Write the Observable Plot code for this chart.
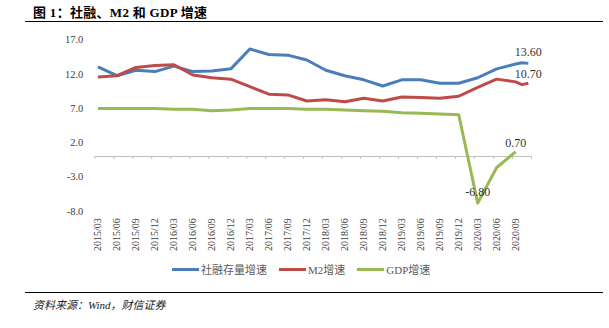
<!DOCTYPE html>
<html><head><meta charset="utf-8">
<script src="https://cdn.jsdelivr.net/npm/d3@7"></script>
<script src="https://cdn.jsdelivr.net/npm/@observablehq/plot@0.6"></script>
<style>
body{margin:0;background:#fff;width:609px;height:328px;position:relative;overflow:hidden;font-family:"Liberation Serif","Times New Roman","Noto Sans CJK SC",serif;}
#title{position:absolute;left:33px;top:2px;font-size:13px;font-weight:bold;color:#000;white-space:nowrap;letter-spacing:0.3px;}
.rule{position:absolute;left:25px;width:578px;height:1.3px;background:#000;}
#chart{position:absolute;left:0;top:25px;}
#legend{position:absolute;left:172px;top:261px;display:flex;align-items:center;font-size:11px;color:#595959;white-space:nowrap;}
#legend .item{display:flex;align-items:center;margin-right:12px;}
#legend .sw{width:27px;height:3px;margin-right:2px;}
#source{position:absolute;left:33px;top:296px;font-size:11px;font-style:italic;color:#222;white-space:nowrap;}
</style></head>
<body>
<div id="title">图 1：社融、M2 和 GDP 增速</div>
<div class="rule" style="top:21px"></div>
<div id="chart"></div>
<div id="legend"></div>
<div class="rule" style="top:291.5px"></div>
<div id="source">资料来源：Wind，财信证券</div>
<script>
// Quarterly tick labels on the x axis
const tickLabels = ["2015/03","2015/06","2015/09","2015/12","2016/03","2016/06","2016/09","2016/12","2017/03","2017/06","2017/09","2017/12","2018/03","2018/06","2018/09","2018/12","2019/03","2019/06","2019/09","2019/12","2020/03","2020/06","2020/09"];
const yTicks = [-8, -3, 2, 7, 12, 17];

// 社融存量增速 (dates + values)
const tsfDates = ["2015/03","2015/06","2015/09","2015/12","2016/03","2016/06","2016/09","2016/12","2017/03","2017/06","2017/09","2017/12","2018/03","2018/06","2018/09","2018/12","2019/03","2019/06","2019/09","2019/12","2020/03","2020/06","2020/09","2020/10","2020/11"];
const tsfValues = [13.1,11.8,12.6,12.4,13.2,12.4,12.5,12.8,15.7,14.9,14.8,14.1,12.6,11.8,11.2,10.3,11.2,11.2,10.7,10.7,11.5,12.8,13.5,13.7,13.6];

// M2增速
const m2Dates = tsfDates;
const m2Values = [11.6,11.8,13.0,13.3,13.4,11.9,11.5,11.3,10.2,9.1,9.0,8.1,8.3,8.0,8.5,8.1,8.7,8.6,8.5,8.8,10.1,11.3,10.9,10.5,10.7];

// GDP增速 (cumulative, quarterly)
const gdpDates = tickLabels;
const gdpValues = [7.0,7.0,7.0,7.0,6.9,6.9,6.7,6.8,7.0,7.0,7.0,6.9,6.9,6.8,6.7,6.6,6.4,6.3,6.2,6.1,-6.8,-1.6,0.7];

const seriesNames = ["社融存量增速","M2增速","GDP增速"];
const colors = ["#4a7ebb","#be4b48","#98b954"];

// month index from "YYYY/MM" (0 = 2015/03)
const idx = s => { const [y,m] = s.split("/").map(Number); return (y-2015)*12 + (m-3); };
const mk = (name, dates, vals) => dates.map((d,i)=>({series:name, x: idx(d), y: vals[i]}));
const data = [
  ...mk(seriesNames[0], tsfDates, tsfValues),
  ...mk(seriesNames[1], m2Dates, m2Values),
  ...mk(seriesNames[2], gdpDates, gdpValues)
];
const nMonths = idx("2020/11") + 1;
const tickIdx = tickLabels.map(idx);
const boundaries = d3.range(0, nMonths + 1, 3).map(i => i - 0.5);

const lastOf = (name) => data.filter(d=>d.series===name).slice(-1)[0];
const labels = [
  {...lastOf(seriesNames[0]), dy:-15},
  {...lastOf(seriesNames[1]), dy:-13},
  {...lastOf(seriesNames[2]), dy:-13},
  {...data.filter(d=>d.series===seriesNames[2]).reduce((a,b)=>b.y<a.y?b:a), dy:-15}
];

const W = 609, H = 235;
const plot = Plot.plot({
  width: W, height: H,
  marginLeft: 94.3, marginRight: 78, marginTop: 14.6, marginBottom: 49.2,
  style: {fontFamily: '"Liberation Serif","Times New Roman",serif', background: "transparent", overflow: "visible"},
  x: {type: "linear", domain: [-0.5, nMonths - 0.5]},
  y: {domain: [-8, 17]},
  color: {domain: seriesNames, range: colors},
  marks: [
    Plot.axisY({ticks: yTicks, tickSize: 0, tickPadding: 11.5, tickFormat: d => d.toFixed(1), label: null, fontSize: 10.5, color: "#404040"}),
    Plot.axisX({ticks: tickIdx, tickSize: 0, tickPadding: 7, tickRotate: -90, tickFormat: (d,i) => tickLabels[i], label: null, fontSize: 10, color: "#404040"}),
    Plot.ruleY([0], {stroke: "#bfbfbf", strokeWidth: 1}),
    Plot.ruleX(boundaries, {x: d => d, y1: 0, y2: -0.42, stroke: "#bfbfbf", strokeWidth: 1}),
    Plot.line(data, {x: "x", y: "y", z: "series", stroke: "series", strokeWidth: 3, strokeLinejoin: "round", strokeLinecap: "butt"}),
    Plot.text(labels, {x: "x", y: "y", text: d => d.y.toFixed(2), fontSize: 12, fill: "#333"})
  ]
});
document.getElementById("chart").appendChild(plot);
// per-label vertical offsets
const textNodes = plot.querySelectorAll('g[aria-label="text"] text');
textNodes.forEach((t,i)=>{ t.setAttribute("dy", labels[i].dy + 4); });

const lg = document.getElementById("legend");
seriesNames.forEach((n,i)=>{
  const it = document.createElement("div"); it.className="item";
  it.innerHTML = `<div class="sw" style="background:${colors[i]}"></div><span>${n}</span>`;
  lg.appendChild(it);
});
</script>
</body></html>
